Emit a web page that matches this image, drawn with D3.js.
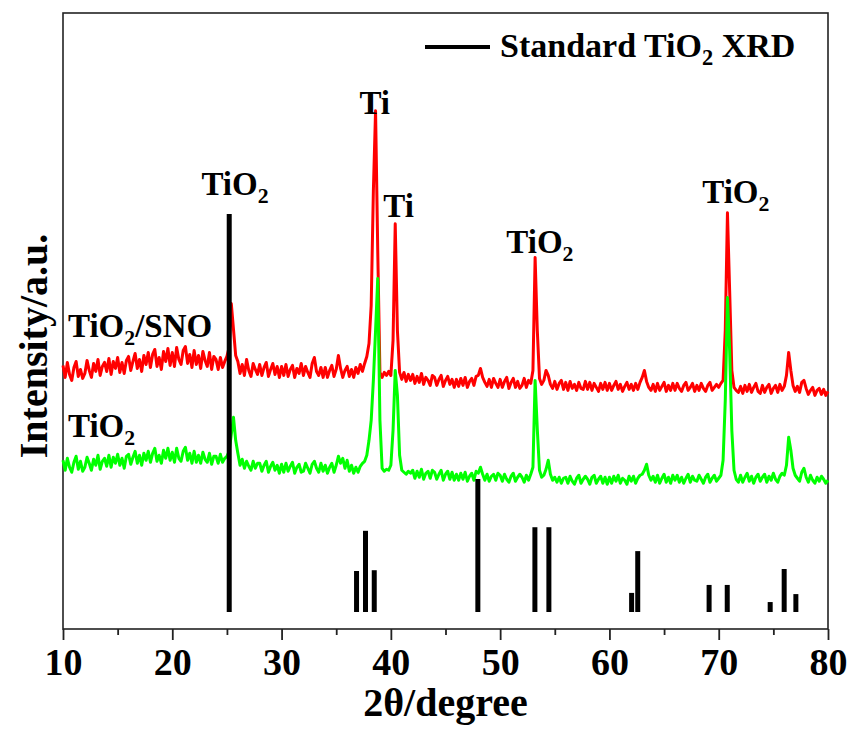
<!DOCTYPE html>
<html>
<head>
<meta charset="utf-8">
<script src="https://cdn.jsdelivr.net/npm/d3@7"></script>
<style>
  body { margin: 0; background: #fff; }
  svg text { font-family: "Liberation Serif", "Times New Roman", serif; font-weight: bold; fill: #000; }
</style>
</head>
<body>
<svg id="chart" width="855" height="736"></svg>
<script>
// Scan grid: 2θ from 10° to 80° in 0.2° steps
const angleStart = 10;
const angleStep = 0.2;

// TiO2/SNO pattern (a.u., before vertical stacking)
const snoCounts = [
  34, 22, 37, 25, 19, 32, 38, 23, 30, 21,
  26, 39, 29, 22, 36, 28, 40, 24, 33, 37,
  28, 41, 25, 38, 31, 42, 27, 37, 26, 39,
  43, 29, 38, 46, 31, 40, 28, 44, 35, 47,
  32, 45, 50, 33, 42, 30, 48, 38, 51, 34,
  47, 33, 52, 40, 35, 49, 53, 36, 45, 32,
  49, 35, 44, 31, 48, 39, 33, 47, 30, 43,
  40, 30, 42, 32, 38, 43, 52, 96, 70, 44,
  38, 26, 35, 24, 40, 29, 23, 36, 30, 25,
  35, 24, 32, 37, 23, 30, 36, 25, 33, 22,
  33, 24, 35, 23, 30, 34, 22, 31, 26, 36,
  24, 33, 27, 22, 36, 42, 28, 24, 32, 22,
  32, 22, 29, 34, 23, 30, 44, 31, 22, 29,
  33, 23, 30, 22, 32, 26, 35, 28, 36, 43,
  56, 94, 209, 289, 149, 27, 22, 27, 24, 28,
  24, 59, 176, 69, 27, 20, 27, 18, 25, 19,
  25, 16, 23, 17, 26, 15, 22, 19, 14, 24,
  22, 14, 20, 24, 13, 19, 23, 15, 20, 12,
  20, 13, 21, 14, 22, 12, 18, 21, 14, 23,
  24, 31, 22, 17, 13, 20, 12, 21, 16, 12,
  20, 12, 18, 22, 11, 17, 21, 12, 18, 11,
  14, 21, 12, 19, 16, 29, 142, 69, 21, 15,
  19, 29, 24, 15, 11, 18, 10, 16, 19, 10,
  17, 9, 18, 11, 15, 9, 17, 11, 10, 18,
  10, 17, 9, 16, 12, 8, 16, 10, 17, 9,
  16, 9, 14, 18, 10, 15, 8, 13, 17, 10,
  15, 9, 16, 10, 17, 22, 29, 18, 12, 9,
  15, 8, 16, 9, 13, 17, 8, 14, 9, 16,
  9, 16, 11, 8, 14, 17, 9, 12, 16, 8,
  14, 9, 16, 11, 8, 14, 17, 9, 12, 15,
  12, 16, 19, 69, 187, 109, 29, 12, 9, 7,
  13, 6, 14, 8, 15, 7, 12, 16, 8, 6,
  14, 7, 12, 15, 6, 11, 14, 7, 15, 9,
  13, 24, 47, 29, 14, 8, 13, 7, 17, 19,
  11, 5, 9, 12, 4, 9, 11, 5, 10, 4,
  8
];

// TiO2 pattern (a.u., before vertical stacking)
const tio2Counts = [
  29, 19, 31, 22, 17, 27, 33, 20, 28, 18,
  22, 32, 26, 19, 30, 24, 34, 20, 28, 31,
  23, 34, 22, 32, 26, 35, 24, 31, 21, 33,
  35, 25, 32, 38, 26, 34, 24, 36, 29, 38,
  27, 36, 41, 28, 34, 26, 39, 31, 41, 29,
  37, 27, 41, 31, 28, 38, 42, 29, 36, 26,
  38, 27, 34, 26, 37, 30, 27, 36, 25, 33,
  33, 26, 35, 27, 31, 33, 38, 55, 72, 49,
  36, 24, 30, 21, 28, 23, 19, 28, 21, 26,
  26, 18, 24, 28, 17, 23, 27, 19, 24, 16,
  25, 17, 26, 18, 23, 27, 16, 22, 25, 17,
  18, 26, 21, 16, 25, 28, 21, 17, 26, 18,
  24, 16, 22, 26, 17, 24, 33, 26, 31, 21,
  29, 18, 24, 16, 22, 17, 23, 26, 28, 34,
  49, 69, 109, 159, 211, 69, 21, 18, 20, 19,
  24, 59, 119, 94, 34, 19, 17, 15, 18, 16,
  19, 11, 18, 12, 20, 10, 16, 18, 11, 19,
  17, 10, 15, 19, 9, 15, 18, 10, 17, 9,
  15, 9, 16, 10, 17, 8, 13, 16, 9, 18,
  16, 22, 15, 9, 15, 8, 13, 15, 9, 16,
  14, 8, 15, 10, 7, 13, 16, 8, 12, 15,
  12, 7, 14, 9, 15, 22, 109, 60, 19, 12,
  14, 20, 29, 15, 9, 12, 7, 12, 6, 11,
  12, 6, 13, 8, 5, 11, 14, 6, 10, 13,
  10, 5, 12, 14, 6, 10, 13, 6, 12, 5,
  12, 6, 13, 8, 14, 6, 11, 9, 5, 13,
  8, 13, 6, 11, 14, 15, 19, 25, 14, 9,
  13, 7, 14, 6, 11, 15, 7, 12, 6, 14,
  9, 14, 7, 12, 6, 11, 15, 7, 13, 9,
  8, 14, 10, 6, 12, 15, 7, 11, 14, 8,
  11, 14, 29, 89, 192, 139, 59, 19, 10, 7,
  14, 7, 12, 16, 8, 13, 6, 12, 15, 8,
  12, 15, 7, 13, 9, 16, 10, 7, 13, 16,
  14, 24, 52, 39, 21, 14, 11, 8, 17, 21,
  12, 7, 14, 9, 6, 12, 8, 13, 10, 6,
  9
];

// Vertical stacking offsets (a.u.)
const snoOffset = 230;
const tio2Offset = 140;

// Standard anatase TiO2 reference lines: 2θ and relative intensity (%)
const stdAngles = [25.21, 36.86, 37.68, 38.48, 47.96, 53.18, 54.46, 62.03, 62.59, 69.12, 70.78, 74.71, 75.99, 77.06];
const stdIntensity = [100, 10.3, 20.4, 10.5, 33.4, 21.3, 21.3, 4.8, 15.3, 6.8, 6.8, 2.5, 10.8, 4.5];

// Axis ticks
const majorTicks = [10, 20, 30, 40, 50, 60, 70, 80];
const minorTicks = [15, 25, 35, 45, 55, 65, 75];

// Peak annotations: text, subscript, centre 2θ
const peakText = ["TiO", "Ti", "Ti", "TiO", "TiO"];
const peakSub = ["2", "", "", "2", "2"];
const peakAngle = [25.74, 38.52, 40.71, 53.64, 71.57];

// Curve labels
const curveNames = [["TiO", "2", "/SNO"], ["TiO", "2", ""]];

const svg = d3.select("#chart");
const M = { left: 63, right: 828, top: 13, bottom: 629 };

const x = d3.scaleLinear().domain([10, 80]).range([M.left, M.right]);
const y = d3.scaleLinear().domain([0, 617]).range([M.bottom, M.top]);
const yStick = d3.scaleLinear().domain([0, 100]).range([612, 214]);

const angleAt = i => angleStart + i * angleStep;

// Plot frame
svg.append("rect")
  .attr("x", M.left).attr("y", M.top)
  .attr("width", M.right - M.left).attr("height", M.bottom - M.top)
  .attr("fill", "none").attr("stroke", "#222").attr("stroke-width", 1.6);

// Traces
function trace(values, offset, color) {
  const line = d3.line()
    .x((d, i) => x(angleAt(i)))
    .y(d => y(d + offset));
  svg.append("path")
    .datum(values)
    .attr("d", line)
    .attr("fill", "none")
    .attr("stroke", color)
    .attr("stroke-width", 3)
    .attr("stroke-linejoin", "round");
}
trace(snoCounts, snoOffset, "#ff0000");
trace(tio2Counts, tio2Offset, "#00ff00");

// Standard reference sticks
svg.append("g").selectAll("line")
  .data(stdAngles)
  .join("line")
  .attr("x1", d => x(d)).attr("x2", d => x(d))
  .attr("y1", yStick(0))
  .attr("y2", (d, i) => yStick(stdIntensity[i]))
  .attr("stroke", "#000")
  .attr("stroke-width", 5);

// Bottom axis: major + minor ticks
const axisMajor = d3.axisBottom(x).tickValues(majorTicks).tickSize(11).tickPadding(8).tickFormat(d3.format("d"));
const gMajor = svg.append("g").attr("transform", `translate(0,${M.bottom})`).call(axisMajor);
gMajor.select(".domain").remove();
gMajor.selectAll("line").attr("stroke", "#222").attr("stroke-width", 1.8);
gMajor.selectAll("text")
  .style("font-family", '"Liberation Serif", "Times New Roman", serif')
  .style("font-weight", "bold")
  .style("font-size", "38px")
  .attr("fill", "#000");

const axisMinor = d3.axisBottom(x).tickValues(minorTicks).tickSize(6).tickFormat("");
const gMinor = svg.append("g").attr("transform", `translate(0,${M.bottom})`).call(axisMinor);
gMinor.select(".domain").remove();
gMinor.selectAll("line").attr("stroke", "#222").attr("stroke-width", 1.8);

// Axis titles
svg.append("text")
  .attr("x", (M.left + M.right) / 2).attr("y", 716)
  .attr("text-anchor", "middle")
  .style("font-size", "40px")
  .text("2θ/degree");

svg.append("text")
  .attr("transform", "translate(47,346) rotate(-90)")
  .attr("text-anchor", "middle")
  .style("font-size", "40px")
  .text("Intensity/a.u.");

// Text with a subscript part
function subText(parent, xPos, yPos, parts, anchor, size) {
  const t = parent.append("text")
    .attr("x", xPos).attr("y", yPos)
    .attr("text-anchor", anchor)
    .style("font-size", size + "px");
  t.append("tspan").text(parts[0]);
  if (parts[1]) {
    t.append("tspan").attr("dy", size * 0.24).style("font-size", (size * 0.66) + "px").text(parts[1]);
  }
  if (parts[2]) {
    t.append("tspan").attr("dy", -size * 0.24).text(parts[2]);
  }
  return t;
}

// Peak annotations (baseline heights in px)
const peakBaseline = [195, 114, 217, 253, 203];
peakText.forEach((txt, i) => {
  subText(svg, x(peakAngle[i]), peakBaseline[i], [txt, peakSub[i], ""], "middle", 33);
});

// Curve labels
subText(svg, 68, 337, curveNames[0], "start", 33);
subText(svg, 68, 437, curveNames[1], "start", 33);

// Legend
svg.append("line")
  .attr("x1", 425).attr("x2", 490).attr("y1", 47).attr("y2", 47)
  .attr("stroke", "#000").attr("stroke-width", 4);
subText(svg, 500, 57, ["Standard TiO", "2", " XRD"], "start", 34);
</script>
</body>
</html>
